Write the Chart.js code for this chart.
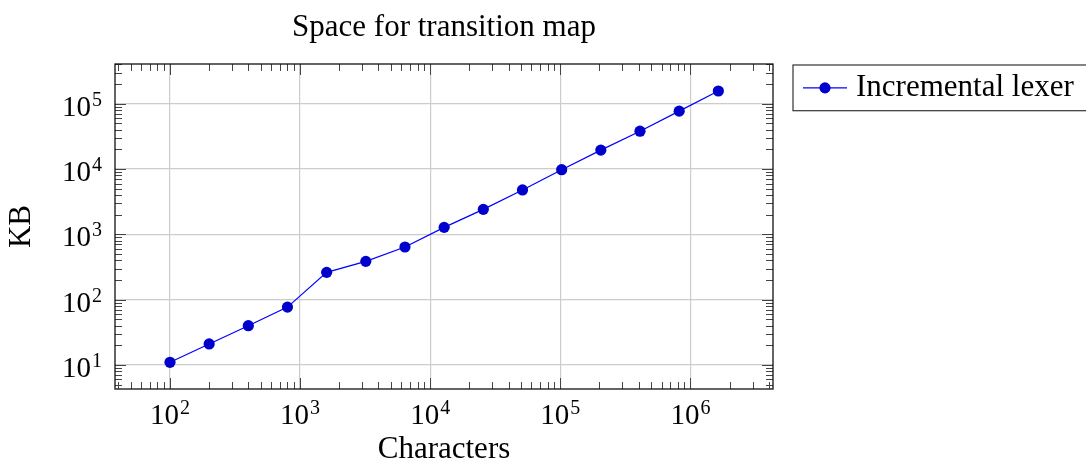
<!DOCTYPE html>
<html>
<head>
<meta charset="utf-8">
<title>Space for transition map</title>
<script src="https://cdn.jsdelivr.net/npm/chart.js@4.4.1/dist/chart.umd.min.js"></script>
<style>
  html, body { margin: 0; padding: 0; background: #fff; }
  #chart { display: block; }
</style>
</head>
<body>
<canvas id="chart" width="1086" height="464"></canvas>
<script>
// values
const characters = [100, 200, 400, 800, 1600, 3200, 6400, 12800, 25600, 51200, 102400, 204800, 409600, 819200, 1638400]
const kilobytes = [11, 21, 40, 77, 262, 386, 641, 1280, 2415, 4790, 9770, 19500, 38000, 77000, 156700]
const xExponents = [2, 3, 4, 5, 6]
const yExponents = [1, 2, 3, 4, 5]
const minorSteps = [2, 3, 4, 5, 6, 7, 8, 9]
const xMin = 37.8, xMax = 4.31e6
const yMin = 4.29, yMax = 4.06e5

const serif = "'Liberation Serif', 'DejaVu Serif', serif"
const lineBlue = '#0000ff'
const markBlue = '#0000cc'

// frame, inward ticks, tick labels with superscripts and boxed legend
const pgfLook = {
    id: 'pgfLook',
    beforeDatasetsDraw(chart) {
        const ctx = chart.ctx
        const {left, right, top, bottom} = chart.chartArea
        const xs = chart.scales.x
        const ys = chart.scales.y
        ctx.save()
        ctx.strokeStyle = '#444'
        ctx.lineWidth = 1

        function ticksFor(scale, exps) {
            const out = []
            const lo = Math.floor(Math.log10(scale.min))
            const hi = Math.ceil(Math.log10(scale.max))
            for (let e = lo; e <= hi; e++) {
                [1].concat(minorSteps).forEach(function (k) {
                    const v = k * Math.pow(10, e)
                    if (v >= scale.min && v <= scale.max) out.push({v: v, major: k === 1})
                })
            }
            return out
        }

        ctx.beginPath()
        ticksFor(xs).forEach(function (t) {
            const px = Math.round(xs.getPixelForValue(t.v)) + 0.5
            const len = t.major ? 11 : 7
            ctx.moveTo(px, bottom); ctx.lineTo(px, bottom - len)
            ctx.moveTo(px, top); ctx.lineTo(px, top + len)
        })
        ticksFor(ys).forEach(function (t) {
            const py = Math.round(ys.getPixelForValue(t.v)) + 0.5
            const len = t.major ? 11 : 7
            ctx.moveTo(left, py); ctx.lineTo(left + len, py)
            ctx.moveTo(right, py); ctx.lineTo(right - len, py)
        })
        ctx.stroke()

        ctx.strokeStyle = '#111'
        ctx.lineWidth = 1.3
        ctx.strokeRect(left, top, right - left, bottom - top)
        ctx.restore()
    },
    afterDraw(chart) {
        const ctx = chart.ctx
        const {left, bottom} = chart.chartArea
        const xs = chart.scales.x
        const ys = chart.scales.y
        const baseFont = '29px ' + serif
        const supFont = '20px ' + serif
        ctx.save()
        ctx.fillStyle = '#000'
        ctx.textBaseline = 'alphabetic'
        ctx.textAlign = 'left'

        function power(e, x, y, anchor) {
            ctx.font = baseFont
            const w1 = ctx.measureText('10').width
            ctx.font = supFont
            const w2 = ctx.measureText(String(e)).width
            const w = w1 + 1 + w2
            const x0 = anchor === 'center' ? x - w / 2 : x - w
            ctx.font = baseFont
            ctx.fillText('10', x0, y)
            ctx.font = supFont
            ctx.fillText(String(e), x0 + w1 + 1, y - 10)
        }

        xExponents.forEach(function (e) {
            power(e, xs.getPixelForValue(Math.pow(10, e)), 424, 'center')
        })
        yExponents.forEach(function (e) {
            power(e, left - 13, ys.getPixelForValue(Math.pow(10, e)) + 12, 'right')
        })

        // legend box
        const ds = chart.data.datasets[0]
        const boxTop = 65, boxBottom = 110.7, boxLeft = 793
        const midY = (boxTop + boxBottom) / 2
        ctx.strokeStyle = '#333'
        ctx.lineWidth = 1.2
        ctx.strokeRect(boxLeft, boxTop, 1092 - boxLeft, boxBottom - boxTop)
        ctx.strokeStyle = ds.borderColor
        ctx.lineWidth = ds.borderWidth
        ctx.beginPath()
        ctx.moveTo(803, midY); ctx.lineTo(847, midY)
        ctx.stroke()
        ctx.fillStyle = ds.pointBackgroundColor
        ctx.beginPath()
        ctx.arc(825, midY, ds.pointRadius, 0, Math.PI * 2)
        ctx.fill()
        ctx.fillStyle = '#000'
        ctx.font = '31px ' + serif
        ctx.fillText(ds.label, 856, 96)
        ctx.restore()
    }
}

const points = characters.map(function (c, i) { return {x: c, y: kilobytes[i]} })

new Chart(document.getElementById('chart'), {
    type: 'line',
    data: {
        datasets: [{
            label: 'Incremental lexer',
            data: points,
            borderColor: lineBlue,
            borderWidth: 1.2,
            pointBackgroundColor: markBlue,
            pointBorderColor: markBlue,
            pointBorderWidth: 0,
            pointRadius: 5.6,
            tension: 0,
            fill: false
        }]
    },
    options: {
        responsive: false,
        animation: false,
        events: [],
        layout: { padding: { left: 0, top: 0, right: 313, bottom: 0 } },
        plugins: {
            legend: { display: false },
            tooltip: { enabled: false },
            title: {
                display: true,
                fullSize: false,
                text: 'Space for transition map',
                color: '#000',
                font: { family: serif, size: 31, weight: 'normal', lineHeight: 0.9 },
                padding: { top: 13.5, bottom: 22.6 }
            }
        },
        scales: {
            x: {
                type: 'logarithmic',
                position: 'bottom',
                min: xMin,
                max: xMax,
                afterBuildTicks: function (axis) {
                    axis.ticks = xExponents.map(function (e) { return {value: Math.pow(10, e)} })
                },
                afterFit: function (axis) { axis.height = 75 },
                ticks: { display: false },
                grid: { color: '#cccccc', lineWidth: 1.2, drawTicks: false },
                border: { display: false },
                title: {
                    display: true,
                    text: 'Characters',
                    color: '#000',
                    font: { family: serif, size: 31, lineHeight: 0.9 },
                    padding: { top: 0, bottom: 0 }
                }
            },
            y: {
                type: 'logarithmic',
                position: 'left',
                min: yMin,
                max: yMax,
                afterBuildTicks: function (axis) {
                    axis.ticks = yExponents.map(function (e) { return {value: Math.pow(10, e)} })
                },
                afterFit: function (axis) { axis.width = 115 },
                ticks: { display: false },
                grid: { color: '#cccccc', lineWidth: 1.2, drawTicks: false },
                border: { display: false },
                title: {
                    display: true,
                    text: 'KB',
                    color: '#000',
                    font: { family: serif, size: 31, lineHeight: 0.9 },
                    padding: { top: 7.7, bottom: 0 }
                }
            }
        }
    },
    plugins: [pgfLook]
})
</script>
</body>
</html>
